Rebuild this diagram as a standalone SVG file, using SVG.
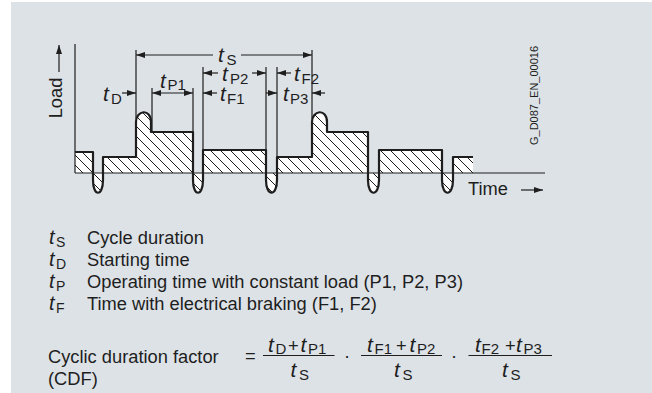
<svg xmlns="http://www.w3.org/2000/svg" width="652" height="393" viewBox="0 0 652 393">
<style>
.wave{fill:none;stroke:#1e1e1e;stroke-width:2.2;stroke-linejoin:round}
.thin{fill:none;stroke:#1e1e1e;stroke-width:1.2}
.arr{marker-end:url(#ah)}
.dbl{marker-start:url(#ah);marker-end:url(#ah)}
.hatch{fill:url(#hatch);stroke:none}
text{font-family:"Liberation Sans",Arial,Helvetica,sans-serif;fill:#1e1e1e}
.t{font-style:italic;font-size:21px}
.s{font-size:15px}
.lt{font-style:italic;font-size:20px}
.ls{font-size:14px}
.body{font-size:18.3px}
</style>
<defs>
<pattern id="hatch" patternUnits="userSpaceOnUse" width="10" height="10">
<rect width="10" height="10" fill="#ffffff"/>
<path d="M-2,-2 L12,12 M-2,8 L2,12 M8,-2 L12,2" stroke="#1e1e1e" stroke-width="1"/>
</pattern>
<marker id="ah" viewBox="0 0 9 6" refX="9" refY="3" markerWidth="9" markerHeight="6" markerUnits="userSpaceOnUse" orient="auto-start-reverse">
<path d="M0,0 L9,3 L0,6 Z" fill="#1e1e1e"/>
</marker>
</defs>
<rect id="background" x="11" y="2" width="641" height="391" fill="#dde2e6"/>

<g id="hatched-areas" class="hatch">
<path d="M75,173 V152 H93 V173 Z"/>
<path d="M93,173 V180 C93,197 103,197 103,180 V173 Z"/>
<path d="M103,173 V157 H136 V122 C136,110 151,108 151,122 V132 H193 V173 Z"/>
<path d="M193,173 V180 C193,197 203,197 203,180 V173 Z"/>
<path d="M203,173 V150 H266 V173 Z"/>
<path d="M266,173 V180 C266,197 277,197 277,180 V173 Z"/>
<path d="M277,173 V157 H312 V122 C312,110 327,108 327,122 V132 H368 V173 Z"/>
<path d="M368,173 V180 C368,197 379,197 379,180 V173 Z"/>
<path d="M379,173 V150 H442 V173 Z"/>
<path d="M442,173 V180 C442,197 453,197 453,180 V173 Z"/>
<path d="M453,173 V157 H473 V173 Z"/>
</g>

<g id="axes">
<line class="thin" x1="75" y1="44" x2="75" y2="173"/>
<line class="thin" x1="75" y1="173" x2="545" y2="173"/>
<line class="thin arr" x1="59" y1="72" x2="59" y2="45"/>
<line class="thin arr" x1="521" y1="190" x2="543" y2="190"/>
<text class="body" transform="translate(62,98) rotate(-90)" text-anchor="middle">Load</text>
<text class="body" x="468" y="195">Time</text>
<text transform="translate(538,95.5) rotate(-90)" text-anchor="middle" font-size="11">G_D087_EN_00016</text>
</g>

<g id="waveform">
<path class="wave" d="M75,152 H93 V180 C93,197 103,197 103,180 V157 H136 V122 C136,110 151,108 151,122 V132 H193 V180 C193,197 203,197 203,180 V150 H266 V180 C266,197 277,197 277,180 V157 H312 V122 C312,110 327,108 327,122 V132 H368 V180 C368,197 379,197 379,180 V150 H442 V180 C442,197 453,197 453,180 V157 H473"/>
</g>

<g id="connectors">
<line class="thin" x1="136" y1="50" x2="136" y2="118"/>
<line class="thin" x1="152" y1="88" x2="152" y2="132"/>
<line class="thin" x1="193" y1="88" x2="193" y2="132"/>
<line class="thin" x1="203" y1="67" x2="203" y2="150"/>
<line class="thin" x1="266" y1="67" x2="266" y2="150"/>
<line class="thin" x1="277" y1="67" x2="277" y2="157"/>
<line class="thin" x1="312" y1="50" x2="312" y2="118"/>
<line class="thin arr" x1="213" y1="55" x2="136" y2="55"/>
<line class="thin arr" x1="241" y1="55" x2="312" y2="55"/>
<line class="thin arr" x1="218" y1="73" x2="203" y2="73"/>
<line class="thin arr" x1="252" y1="73" x2="266" y2="73"/>
<line class="thin arr" x1="291" y1="73" x2="277" y2="73"/>
<line class="thin arr" x1="122" y1="93" x2="136" y2="93"/>
<line class="thin dbl" x1="152" y1="93" x2="193" y2="93"/>
<line class="thin arr" x1="217" y1="93" x2="203" y2="93"/>
<line class="thin arr" x1="266" y1="93" x2="277" y2="93"/>
<line class="thin arr" x1="325" y1="93" x2="312" y2="93"/>
</g>

<g id="dimension-labels">
<text x="218" y="62"><tspan class="t">t</tspan><tspan class="s" x="226.5" y="64.5">S</tspan></text>
<text x="103" y="101"><tspan class="t">t</tspan><tspan class="s" x="111" y="103.5">D</tspan></text>
<text x="160" y="87.5"><tspan class="t">t</tspan><tspan class="s" x="167.5" y="89.5">P1</tspan></text>
<text x="222" y="81"><tspan class="t">t</tspan><tspan class="s" x="230" y="83.5">P2</tspan></text>
<text x="294" y="81"><tspan class="t">t</tspan><tspan class="s" x="301.5" y="83.5">F2</tspan></text>
<text x="220" y="101"><tspan class="t">t</tspan><tspan class="s" x="227" y="103.5">F1</tspan></text>
<text x="283" y="101"><tspan class="t">t</tspan><tspan class="s" x="290" y="103.5">P3</tspan></text>
</g>

<g id="legend">
<text x="49" y="244"><tspan class="lt">t</tspan><tspan class="ls" x="56" y="247">S</tspan></text>
<text class="body" x="87" y="244">Cycle duration</text>
<text x="49" y="266"><tspan class="lt">t</tspan><tspan class="ls" x="56" y="269">D</tspan></text>
<text class="body" x="87" y="266">Starting time</text>
<text x="49" y="288"><tspan class="lt">t</tspan><tspan class="ls" x="56" y="291">P</tspan></text>
<text class="body" x="87" y="288">Operating time with constant load (P1, P2, P3)</text>
<text x="49" y="310"><tspan class="lt">t</tspan><tspan class="ls" x="56" y="313">F</tspan></text>
<text class="body" x="87" y="310">Time with electrical braking (F1, F2)</text>
</g>

<g id="formula">
<text class="body" x="48" y="363">Cyclic duration factor</text>
<text class="body" x="48" y="385">(CDF)</text>
<text class="body" x="245" y="362">=</text>
<line class="thin" x1="263" y1="355.5" x2="334.5" y2="355.5"/>
<line class="thin" x1="361" y1="355.5" x2="442" y2="355.5"/>
<line class="thin" x1="468.5" y1="355.5" x2="552" y2="355.5"/>
<text class="body" x="347" y="362" text-anchor="middle">·</text>
<text class="body" x="454" y="362" text-anchor="middle">·</text>
<text x="268" y="351.5"><tspan class="t">t</tspan><tspan class="s" x="275.5" y="353.5">D</tspan><tspan class="body" x="288" y="351.5">+</tspan><tspan class="t" x="300.5" y="351.5">t</tspan><tspan class="s" x="308" y="353.5">P1</tspan></text>
<text x="290.5" y="377"><tspan class="t">t</tspan><tspan class="s" x="299" y="379.5">S</tspan></text>
<text x="367" y="351.5"><tspan class="t">t</tspan><tspan class="s" x="374.5" y="353.5">F1</tspan><tspan class="body" x="396" y="351.5">+</tspan><tspan class="t" x="409.5" y="351.5">t</tspan><tspan class="s" x="417" y="353.5">P2</tspan></text>
<text x="394" y="377"><tspan class="t">t</tspan><tspan class="s" x="402.5" y="379.5">S</tspan></text>
<text x="475" y="351.5"><tspan class="t">t</tspan><tspan class="s" x="481.5" y="353.5">F2</tspan><tspan class="body" x="505" y="351.5">+</tspan><tspan class="t" x="516" y="351.5">t</tspan><tspan class="s" x="523.5" y="353.5">P3</tspan></text>
<text x="502" y="377"><tspan class="t">t</tspan><tspan class="s" x="510.5" y="379.5">S</tspan></text>
</g>
</svg>
